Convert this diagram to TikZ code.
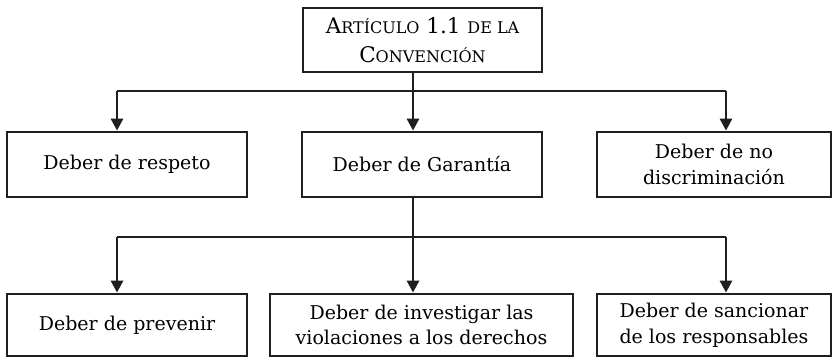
\documentclass[tikz,border=0pt]{standalone}
\usepackage{fontspec}
\setmainfont{DejaVu Serif}
\usetikzlibrary{arrows.meta}
\newcommand{\fsc}[1]{{\fontsize{16}{20}\selectfont #1}}
\begin{document}
\begin{tikzpicture}[x=1pt,y=-1pt,
  box/.style={draw=black!88,line width=2.8pt,inner sep=0pt,align=center,font=\fontsize{19}{25.5}\selectfont},
  topbox/.style={box,font=\fontsize{21.5}{29}\selectfont},
  link/.style={draw=black!88,line width=2.8pt},
  arr/.style={link,-{Triangle[length=12pt,width=12pt]}}]
\useasboundingbox (0,0) rectangle (832,357);
% top
\node[topbox,minimum width=239pt,minimum height=64pt] (top) at (422.5,40) {A\fsc{RTÍCULO} 1.1 \fsc{DE LA}\\C\fsc{ONVENCIÓN}};
% row 2
\node[box,minimum width=240pt,minimum height=65pt] (resp) at (127,164.5) {Deber de respeto};
\node[box,minimum width=240pt,minimum height=65pt] (gar) at (422,164.5) {Deber de Garantía};
\node[box,minimum width=234pt,minimum height=65pt] (nodis) at (714,164.5) {Deber de no\\discriminación};
% row 3
\node[box,minimum width=240pt,minimum height=62pt] (prev) at (127,325) {Deber de prevenir};
\node[box,minimum width=303pt,minimum height=62pt] (inv) at (421.5,325) {Deber de investigar las\\violaciones a los derechos};
\node[box,minimum width=234pt,minimum height=62pt] (sanc) at (714,325) {Deber de sancionar\\de los responsables};
% junctions
\coordinate (j1) at (413,91);
\coordinate (j1l) at (117,91);
\coordinate (j1r) at (726,91);
\coordinate (j2) at (413,237);
\coordinate (j2l) at (117,237);
\coordinate (j2r) at (726,237);
% connectors level 1
\draw[link] (top.south -| j1) -- (j1);
\draw[link] (j1l) -- (j1r);
\draw[arr] (j1l) -- (j1l |- resp.north);
\draw[arr] (j1) -- (j1 |- gar.north);
\draw[arr] (j1r) -- (j1r |- nodis.north);
% connectors level 2
\draw[link] (gar.south -| j2) -- (j2);
\draw[link] (j2l) -- (j2r);
\draw[arr] (j2l) -- (j2l |- prev.north);
\draw[arr] (j2) -- (j2 |- inv.north);
\draw[arr] (j2r) -- (j2r |- sanc.north);
\end{tikzpicture}
\end{document}
